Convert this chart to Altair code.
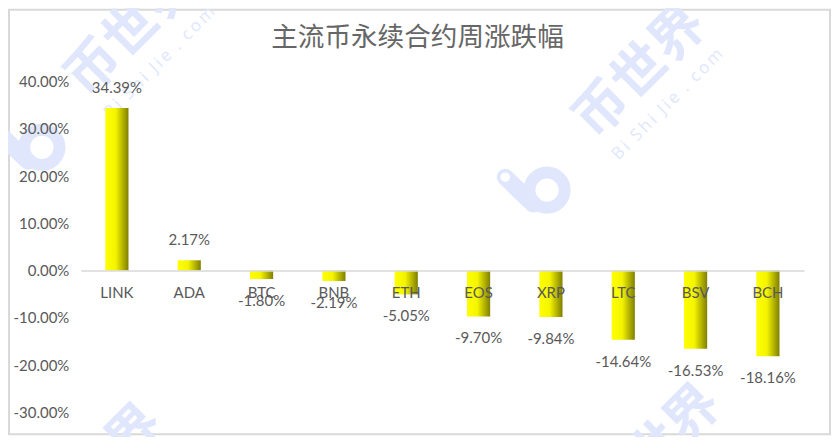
import altair as alt
import pandas as pd

coins = ["LINK", "ADA", "BTC", "BNB", "ETH", "EOS", "XRP", "LTC", "BSV", "BCH"]
changes = [0.3439, 0.0217, -0.0180, -0.0219, -0.0505, -0.0970, -0.0984, -0.1464, -0.1653, -0.1816]
y_ticks = [-0.3, -0.2, -0.1, 0, 0.1, 0.2, 0.3, 0.4]

# watermark pieces, in page pixels
wm_text_xy = [(133, 30), (643, 72), (98, 473), (658, 453)]
wm_sub_xy = [(160, 62), (670, 104)]
wm_ring_xy = [(42, 147), (549, 190)]

LEFT = 81
TOP = 81
W = 726
H = 332
FONT = "Lato"
GREY = "#595959"
WM = "#e0e7fd"
FRAME = "#d9d9d9"
MINUS = "replace(format(datum.change, '.2%'), '\u2212', '-')"

df = pd.DataFrame({"coin": coins, "change": changes})

x = alt.X("coin:N", sort=coins, title=None,
          scale=alt.Scale(paddingInner=0.68, paddingOuter=0.34, round=False),
          axis=alt.Axis(offset=-142.3, labelAngle=0, labelPadding=15, labelFontSize=15, labelFont=FONT, zindex=1,
                        labelColor=GREY, ticks=False, domainColor=FRAME, domainWidth=1.5, grid=False))
y = alt.Y("change:Q", title=None,
          scale=alt.Scale(domain=[-0.3, 0.4], nice=False),
          axis=alt.Axis(values=y_ticks, format=".2%", ticks=False, domain=False, grid=False, zindex=1,
                        labelExpr="replace(datum.label, '\u2212', '-')",
                        labelFontSize=15, labelFont=FONT, labelColor=GREY, labelPadding=12))

one = alt.Chart(pd.DataFrame({"a": [0]}))
layers = []

# frame round the whole picture
layers.append(one.mark_rect(fill=None, stroke=FRAME, strokeWidth=2)
    .encode(x=alt.value(9 - LEFT), x2=alt.value(833 - LEFT), y=alt.value(9 - TOP), y2=alt.value(435 - TOP)))

for px, py in wm_text_xy:
    layers.append(one.mark_text(text="币世界", font="Noto Sans CJK SC", fontSize=54, fontWeight="bold",
                                angle=315, color=WM)
        .encode(x=alt.value(px - LEFT), y=alt.value(py - TOP)))
for px, py in wm_sub_xy:
    layers.append(one.mark_text(text="B\u2009i\u2002S\u2009h\u2009i\u2002J\u2009i\u2009e\u2002.\u2002c\u2009o\u2009m",
                                font="Open Sans", fontSize=17, angle=315, color=WM)
        .encode(x=alt.value(px - LEFT), y=alt.value(py - TOP)))
for px, py in wm_ring_xy:
    layers.append(one.mark_rule(strokeWidth=17, strokeCap="round", color=WM)
        .encode(x=alt.value(px - 42 - LEFT), y=alt.value(py - 13 - TOP),
                x2=alt.value(px - 14 - LEFT), y2=alt.value(py + 14 - TOP)))
    layers.append(one.mark_point(shape="circle", filled=True, size=90, color="white", opacity=1)
        .encode(x=alt.value(px - 42 - LEFT), y=alt.value(py - 13 - TOP)))
    layers.append(one.mark_point(shape="circle", filled=False, size=1250, strokeWidth=12, color=WM, opacity=1)
        .encode(x=alt.value(px - LEFT), y=alt.value(py - TOP)))

layers.append(one.mark_text(text="主流币永续合约周涨跌幅", font="Noto Sans CJK SC", fontSize=26.7, color="#666666")
    .encode(x=alt.value(419 - LEFT), y=alt.value(37 - TOP)))

grad = alt.Gradient(gradient="linear", x1=0, x2=1, y1=0, y2=0, stops=[
    alt.GradientStop(offset=0, color="#ffff00"),
    alt.GradientStop(offset=0.45, color="#f4f400"),
    alt.GradientStop(offset=1, color="#7f7f00"),
])
base = alt.Chart(df).transform_calculate(label=MINUS).encode(x=x, y=y)
layers.append(base.mark_bar(color=grad).encode(y2=alt.datum(0)))
layers.append(base.transform_filter("datum.change >= 0")
    .mark_text(dy=-20, font=FONT, fontSize=15, color=GREY).encode(text="label:N"))
layers.append(base.transform_filter("datum.change < 0")
    .mark_text(dy=22, font=FONT, fontSize=15, color=GREY).encode(text="label:N"))

chart = (alt.layer(*layers)
    .properties(width=W, height=H, padding={"left": LEFT - 8, "top": TOP - 8, "right": 28, "bottom": 24},
                autosize=alt.AutoSizeParams(type="none"))
    .configure_view(stroke=None))
chart.save("out.html", embed_options={"renderer": "svg", "actions": False})
